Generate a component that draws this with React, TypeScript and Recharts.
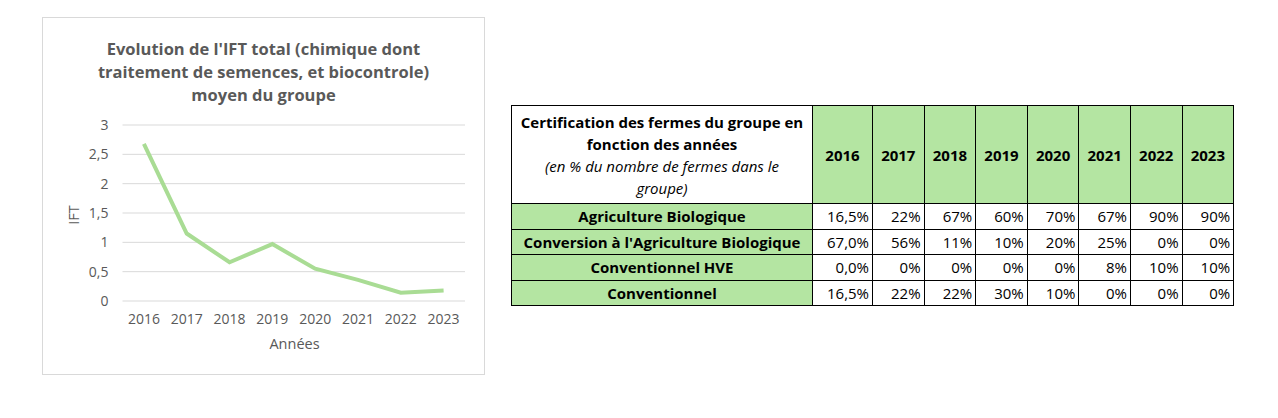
import React from "react";
import { LineChart, Line, XAxis, YAxis, CartesianGrid } from "recharts";

// IFT chart data
const years = ["2016", "2017", "2018", "2019", "2020", "2021", "2022", "2023"];
const iftValues = [2.68, 1.15, 0.66, 0.97, 0.55, 0.36, 0.14, 0.18];
const yTicks = [0, 0.5, 1, 1.5, 2, 2.5, 3];

// certification table data
const certCategories = [
  "Agriculture Biologique",
  "Conversion à l'Agriculture Biologique",
  "Conventionnel HVE",
  "Conventionnel",
];
const bioValues = ["16,5%", "22%", "67%", "60%", "70%", "67%", "90%", "90%"];
const conversionValues = ["67,0%", "56%", "11%", "10%", "20%", "25%", "0%", "0%"];
const hveValues = ["0,0%", "0%", "0%", "0%", "0%", "8%", "10%", "10%"];
const conventionnelValues = ["16,5%", "22%", "22%", "30%", "10%", "0%", "0%", "0%"];
const certValues = [bioValues, conversionValues, hveValues, conventionnelValues];

const chartData = years.map((y, i) => ({ year: y, ift: iftValues[i] }));

const FONT = "'Open Sans', 'Noto Sans', sans-serif";
const GRAY = "#595959";
const GREEN = "#b4e5a2";

const fmt = (v: number) => String(v).replace(".", ",");

export default function App() {
  const cell: React.CSSProperties = {
    border: "1px solid #000",
    padding: "0 3px",
    height: 24.5,
    overflow: "hidden",
    whiteSpace: "nowrap",
  };

  return (
    <div style={{ position: "absolute", left: 0, top: 0, width: 1278, height: 418, background: "#fff", fontFamily: FONT }}>
      {/* chart box */}
      <div style={{ position: "absolute", left: 42, top: 17, width: 441, height: 356, border: "1px solid #d9d9d9" }}>
        <div
          style={{
            position: "absolute",
            left: 0,
            top: 19,
            width: 441,
            textAlign: "center",
            fontWeight: 700,
            fontSize: 16.5,
            lineHeight: "23px",
            color: GRAY,
          }}
        >
          Evolution de l'IFT total (chimique dont
          <br />
          traitement de semences, et biocontrole)
          <br />
          moyen du groupe
        </div>
        <div
          style={{
            position: "absolute",
            left: 1,
            top: 187,
            width: 60,
            textAlign: "center",
            transform: "rotate(-90deg)",
            fontSize: 14.5,
            color: GRAY,
            lineHeight: "20px",
          }}
        >
          IFT
        </div>
        <div
          style={{
            position: "absolute",
            left: 80,
            top: 316,
            width: 343,
            textAlign: "center",
            fontSize: 14.5,
            color: GRAY,
          }}
        >
          Années
        </div>
        <div style={{ position: "absolute", left: 0, top: 0 }}>
          <LineChart width={441} height={356} data={chartData} margin={{ top: 107, right: 19, bottom: 0, left: 20 }}>
            <CartesianGrid vertical={false} stroke="#d9d9d9" />
            <XAxis
              dataKey="year"
              axisLine={false}
              tickLine={false}
              tickSize={0}
              tickMargin={13}
              height={73}
              interval={0}
              padding={{ left: 21.4, right: 21.4 }}
              tick={{ fill: GRAY, fontSize: 14, fontFamily: FONT }}
            />
            <YAxis
              domain={[0, 3]}
              ticks={yTicks}
              axisLine={false}
              tickLine={false}
              tickSize={0}
              tickMargin={14}
              width={59.5}
              tickFormatter={fmt}
              tick={{ fill: GRAY, fontSize: 14, fontFamily: FONT }}
            />
            <Line
              type="linear"
              dataKey="ift"
              stroke="#a9dc94"
              strokeWidth={4}
              dot={false}
              isAnimationActive={false}
            />
          </LineChart>
        </div>
      </div>

      {/* certification table */}
      <table
        style={{
          position: "absolute",
          left: 511,
          top: 105,
          borderCollapse: "collapse",
          tableLayout: "fixed",
          width: 722,
          fontFamily: FONT,
          fontSize: 15,
          color: "#000",
        }}
      >
        <colgroup>
          <col style={{ width: 301 }} />
          {years.map((y, i) => (
            <col key={y} style={{ width: i === 0 ? 60 : 51.6 }} />
          ))}
        </colgroup>
        <tbody>
          <tr>
            <td style={{ ...cell, height: 97, textAlign: "center", lineHeight: "22px", padding: 0 }}>
              <span style={{ fontWeight: 700 }}>
                Certification des fermes du groupe en
                <br />
                fonction des années
              </span>
              <br />
              <span style={{ fontStyle: "italic" }}>
                (en % du nombre de fermes dans le
                <br />
                groupe)
              </span>
            </td>
            {years.map((y) => (
              <td key={y} style={{ ...cell, background: GREEN, fontWeight: 700, textAlign: "center", padding: 0 }}>
                {y}
              </td>
            ))}
          </tr>
          {certCategories.map((c, r) => (
            <tr key={c}>
              <td style={{ ...cell, background: GREEN, fontWeight: 700, textAlign: "center", padding: 0 }}>{c}</td>
              {certValues[r].map((v, i) => (
                <td key={i} style={{ ...cell, textAlign: "right" }}>
                  {v}
                </td>
              ))}
            </tr>
          ))}
        </tbody>
      </table>
    </div>
  );
}
